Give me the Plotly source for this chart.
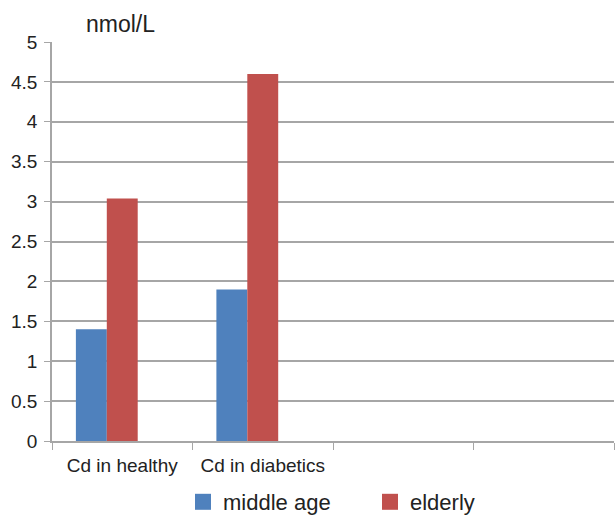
import plotly.graph_objects as go

# Cadmium levels (nmol/L) by group
categories = ["Cd in healthy", "Cd in diabetics", " ", "  "]
middle_age = [1.4, 1.9, None, None]
elderly = [3.04, 4.6, None, None]
unused_series = [None, None, None, None]

blue = "#4f81bd"
red = "#c0504d"

fig = go.Figure()
fig.add_trace(go.Bar(name="middle age", x=categories, y=middle_age, showlegend=False,
                     marker=dict(color=blue, line=dict(width=0))))
fig.add_trace(go.Bar(name="elderly", x=categories, y=elderly, showlegend=False,
                     marker=dict(color=red, line=dict(width=0))))
fig.add_trace(go.Bar(name="series3", x=categories, y=unused_series,
                     showlegend=False, marker=dict(color="#9bbb59")))

# Legend entries with larger square swatches
for name, color in [("middle age", blue), ("elderly", red)]:
    fig.add_trace(go.Scatter(name=name, x=[None], y=[None], mode="markers",
                             marker=dict(symbol="square", size=17, color=color)))

font_family = "Liberation Sans, Arial, sans-serif"
fig.update_layout(
    width=615, height=516,
    margin=dict(l=52, r=1, t=42, b=75, autoexpand=False),
    barmode="group", bargap=0.34, bargroupgap=0,
    plot_bgcolor="white", paper_bgcolor="white",
    font=dict(family=font_family, size=18, color="#222222"),
    showlegend=True,
    legend=dict(orientation="h", x=183 / 615, xanchor="left", xref="container",
                y=1 - 502 / 516, yanchor="middle", yref="container",
                font=dict(size=22), traceorder="normal",
                entrywidthmode="pixels", entrywidth=142),
    annotations=[dict(text="nmol/L", x=(120 - 52) / (615 - 53),
                      y=1 + (42 - 24) / (516 - 117), xref="paper", yref="paper",
                      xanchor="center", yanchor="middle",
                      showarrow=False, font=dict(size=23))],
)

fig.update_xaxes(type="category", range=[-0.5, 3.5], tickson="boundaries",
                 ticks="outside", ticklen=7, tickcolor="#a6a6a6",
                 showline=True, linecolor="#a6a6a6", linewidth=1.5,
                 showgrid=False, tickfont=dict(size=19), automargin=False,
                 ticklabelstandoff=6)
fig.update_yaxes(range=[0, 5], dtick=0.5, ticks="outside", ticklen=6,
                 tickcolor="#a6a6a6", showline=True, linecolor="#a6a6a6",
                 linewidth=1.5, showgrid=True, gridcolor="#a6a6a6", gridwidth=1.5,
                 zeroline=False, tickfont=dict(size=19), ticklabelstandoff=3,
                 automargin=False)

fig.write_html("out.html")
